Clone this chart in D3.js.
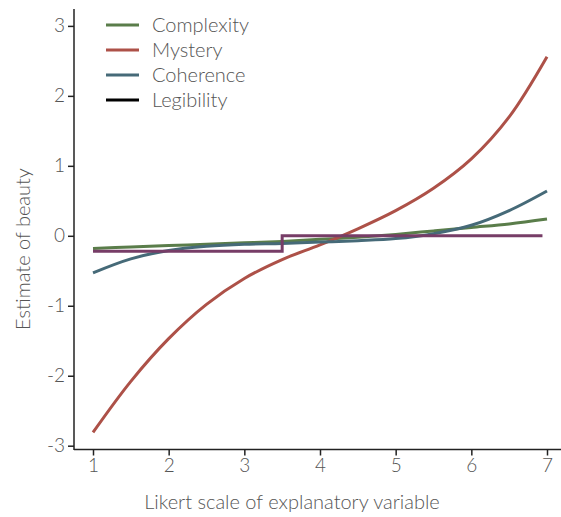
<!DOCTYPE html>
<html lang="en">
<head>
    <meta charset="UTF-8">
    <title>Estimate of beauty</title>
    <script src="https://d3js.org/d3.v7.min.js"></script>
    <style>
        body { margin: 0; background: #fff; }
        text { font-family: "Lato", "Open Sans", sans-serif; font-weight: 300; fill: #555; }
        .axis path, .axis line { stroke: #222; stroke-width: 1.5; }
        .axis text { font-size: 19px; }
        .curve { fill: none; stroke-width: 3; }
    </style>
</head>
<body>
<script>

    var width = 561,
        height = 517;

    // Likert points the curves were read at
    var xs = [1, 1.5, 2, 2.5, 3, 3.5, 4, 4.5, 5, 5.5, 6, 6.5, 7];

    var complexity = [-0.18, -0.16, -0.14, -0.12, -0.10, -0.08, -0.05, -0.02, 0.02, 0.07, 0.12, 0.17, 0.24];
    var mystery    = [-2.81, -2.08, -1.47, -0.98, -0.61, -0.34, -0.13, 0.10, 0.36, 0.68, 1.10, 1.70, 2.56];
    var coherence  = [-0.53, -0.33, -0.21, -0.15, -0.12, -0.11, -0.09, -0.07, -0.04, 0.03, 0.15, 0.36, 0.64];

    // legibility is a step function
    var legX = [1, 3.5, 6.94];
    var legibility = [-0.22, 0, 0];

    var xTicks = [1, 2, 3, 4, 5, 6, 7];
    var yTicks = [-3, -2, -1, 0, 1, 2, 3];

    var names = ["Complexity", "Mystery", "Coherence", "Legibility"];
    var colors = ["#5a7d4a", "#ad5148", "#466a78", "#773d67"];
    var legendColors = ["#5a7d4a", "#ad5148", "#466a78", "#000000"];

    var x = d3.scaleLinear().domain([1, 7]).range([93, 547]);
    var y = d3.scaleLinear().domain([-3, 3]).range([445.7, 25.9]);

    var svg = d3.select("body").append("svg")
        .attr("width", width)
        .attr("height", height);

    var line = d3.line()
        .x(function(d) { return x(d[0]); })
        .y(function(d) { return y(d[1]); })
        .curve(d3.curveCatmullRom.alpha(0.5));

    var stepLine = d3.line()
        .x(function(d) { return x(d[0]); })
        .y(function(d) { return y(d[1]); })
        .curve(d3.curveStepAfter);

    function pairs(vals) {
        return xs.map(function(v, i) { return [v, vals[i]]; });
    }

    var series = [pairs(complexity), pairs(mystery), pairs(coherence)];

    // plain hyphen for negatives, like the original
    var fmt = function(d) { return String(d); };

    // axes
    var xAxis = svg.append("g")
        .attr("class", "axis")
        .attr("transform", "translate(0,449.5)")
        .call(d3.axisBottom(x).tickValues(xTicks).tickSize(6).tickPadding(3).tickFormat(fmt));
    xAxis.select(".domain").attr("d", "M74,0H561");

    var yAxis = svg.append("g")
        .attr("class", "axis")
        .attr("transform", "translate(74,0)")
        .call(d3.axisLeft(y).tickValues(yTicks).tickSize(6).tickPadding(3).tickFormat(fmt));
    yAxis.select(".domain").attr("d", "M0,9V450");

    // the curves
    svg.selectAll(".curve.smooth")
        .data(series)
        .enter()
        .append("path")
        .attr("class", "curve smooth")
        .attr("stroke", function(d, i) { return colors[i]; })
        .attr("d", line);

    svg.append("path")
        .attr("class", "curve")
        .attr("stroke", colors[3])
        .attr("d", stepLine(legX.map(function(v, i) { return [v, legibility[i]]; })));

    // legend
    var legend = svg.append("g")
        .attr("transform", "translate(106,25)");

    var item = legend.selectAll("g")
        .data(names)
        .enter()
        .append("g")
        .attr("transform", function(d, i) { return "translate(0," + (i * 25) + ")"; });

    item.append("line")
        .attr("x1", 0)
        .attr("x2", 33)
        .attr("stroke", function(d, i) { return legendColors[i]; })
        .attr("stroke-width", 3);

    item.append("text")
        .attr("x", 46)
        .attr("dy", "0.35em")
        .style("font-size", "20px")
        .text(function(d) { return d; });

    // axis titles
    svg.append("text")
        .attr("x", 292)
        .attr("y", 509)
        .attr("text-anchor", "middle")
        .style("font-size", "20px")
        .text("Likert scale of explanatory variable");

    svg.append("text")
        .attr("transform", "translate(30,249) rotate(-90)")
        .attr("text-anchor", "middle")
        .style("font-size", "20px")
        .text("Estimate of beauty");

</script>
</body>
</html>
